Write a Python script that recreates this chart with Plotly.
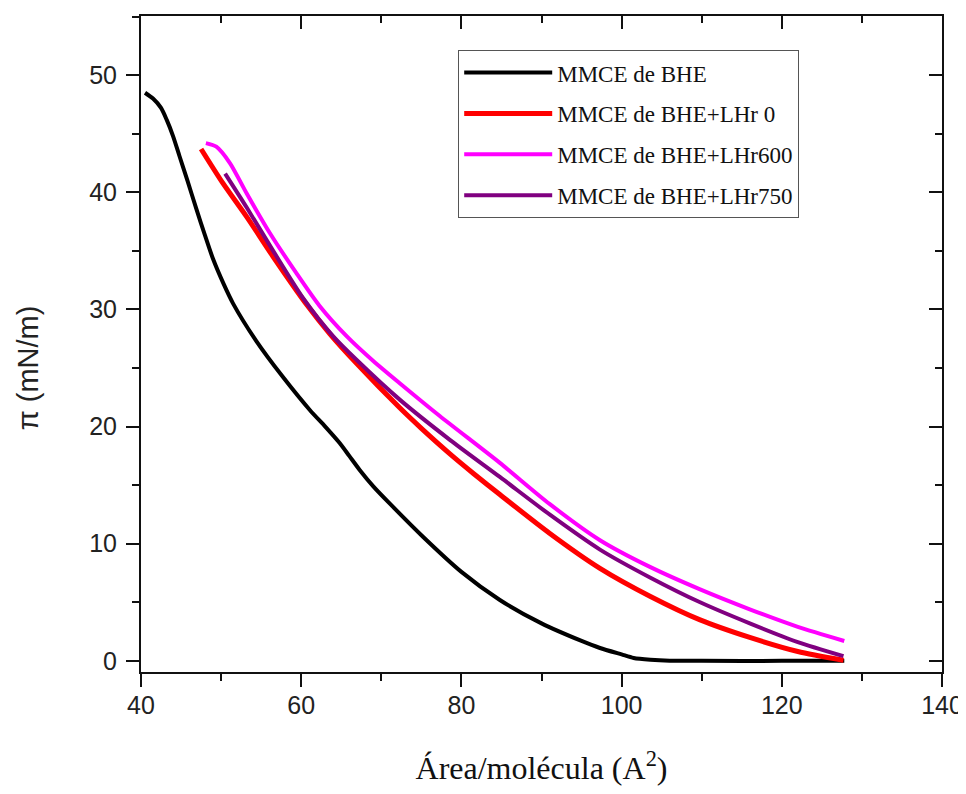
import plotly.graph_objects as go

# ---- data ----
bhe_x = [40.5, 41.5, 42.5, 43.2, 44.0, 44.8, 45.8, 46.9, 48.0, 49.0, 50.3, 51.5, 54.4, 57.7, 61.1, 63.0, 64.8, 66.0, 67.3, 69.0, 71.1, 75.2, 80.0, 84.8, 90.0, 95.0, 97.3, 100.0, 101.5, 103.6, 106.0, 110.0, 120.0, 127.8]
bhe_y = [48.5, 48.0, 47.2, 46.2, 44.8, 43.1, 41.0, 38.6, 36.3, 34.3, 32.2, 30.5, 27.3, 24.25, 21.4, 20.0, 18.6, 17.5, 16.3, 14.9, 13.4, 10.6, 7.6, 5.2, 3.2, 1.7, 1.1, 0.55, 0.25, 0.1, 0.02, 0.0, 0.0, 0.0]

lhr0_x = [47.5, 50.2, 53.2, 56.5, 60.7, 63.6, 66.9, 72.3, 75.0, 78.6, 81.5, 84.8, 91.0, 97.3, 103.6, 109.8, 116.0, 122.0, 127.7]
lhr0_y = [43.7, 40.8, 37.9, 34.5, 30.4, 27.9, 25.4, 21.6, 19.85, 17.65, 16.0, 14.2, 10.9, 7.9, 5.5, 3.5, 2.0, 0.8, 0.05]

lhr600_x = [48.1, 49.4, 51.1, 53.2, 56.1, 59.4, 62.3, 65.7, 69.0, 72.3, 77.3, 84.8, 91.0, 97.3, 103.6, 109.8, 116.0, 122.0, 127.8]
lhr600_y = [44.2, 43.9, 42.5, 39.9, 36.5, 33.1, 30.3, 27.7, 25.6, 23.7, 20.9, 16.9, 13.4, 10.3, 8.0, 6.1, 4.4, 2.9, 1.7]

lhr750_x = [50.5, 53.2, 56.5, 60.2, 64.0, 66.9, 72.3, 78.6, 84.8, 91.0, 97.3, 103.6, 109.8, 116.0, 122.0, 127.7]
lhr750_y = [41.6, 38.7, 35.0, 31.0, 27.7, 25.7, 22.3, 18.85, 15.7, 12.5, 9.5, 7.1, 5.0, 3.2, 1.6, 0.4]

series = [
    ("MMCE de BHE", bhe_x, bhe_y, "#000000", 4),
    ("MMCE de BHE+LHr 0", lhr0_x, lhr0_y, "#FF0000", 5),
    ("MMCE de BHE+LHr600", lhr600_x, lhr600_y, "#FF00FF", 4),
    ("MMCE de BHE+LHr750", lhr750_x, lhr750_y, "#800080", 4),
]

x_range = [40, 140]
y_range = [-0.95, 55.05]

fig = go.Figure()
for i, (name, xs, ys, col, w) in enumerate(series):
    fig.add_trace(go.Scatter(x=xs, y=ys, mode="lines", name=name,
                             legendgroup=f"g{i}",
                             line=dict(color=col, width=w, shape="spline", smoothing=0.7)))
# empty trace so that the mirrored (top/right) axes are drawn
fig.add_trace(go.Scatter(x=[], y=[], xaxis="x2", yaxis="y2", showlegend=False, hoverinfo="skip"))

tickfont = dict(family="Liberation Sans, Arial, sans-serif", size=25, color="#222222")
axcol = "#111111"

fig.update_layout(
    width=958, height=778,
    margin=dict(l=133, r=24, t=8, b=114),
    paper_bgcolor="white", plot_bgcolor="white",
    showlegend=True,
    legend=dict(x=0.396, y=0.948, xanchor="left", yanchor="top",
                bgcolor="white", bordercolor="#555555", borderwidth=1,
                font=dict(family="Liberation Serif, Times New Roman, serif", size=23, color="#111111"),
                tracegroupgap=8, itemwidth=88),
    xaxis=dict(range=x_range, dtick=20, tick0=40, ticks="outside", ticklen=13, tickwidth=2,
               tickcolor=axcol, showline=True, linecolor=axcol, linewidth=2, automargin=False,
               showgrid=False, zeroline=False, tickfont=tickfont, ticklabelstandoff=-3,
               minor=dict(dtick=10, tick0=40, ticks="outside", ticklen=7, tickwidth=2, tickcolor=axcol),
               title=dict(text="Área/molécula (A<sup>2</sup>)", standoff=41,
                          font=dict(family="Liberation Serif, Times New Roman, serif", size=32, color="#111111"))),
    yaxis=dict(range=y_range, dtick=10, tick0=0, ticks="outside", ticklen=13, tickwidth=2,
               tickcolor=axcol, showline=True, linecolor=axcol, linewidth=2, automargin=False,
               showgrid=False, zeroline=False, tickfont=tickfont, ticklabelstandoff=4,
               minor=dict(dtick=5, tick0=0, ticks="outside", ticklen=7, tickwidth=2, tickcolor=axcol)),
    xaxis2=dict(range=x_range, overlaying="x", side="top", anchor="y2", dtick=20, tick0=40,
                ticks="inside", ticklen=13, tickwidth=2, tickcolor=axcol, automargin=False,
                showline=True, linecolor=axcol, linewidth=2, showticklabels=False,
                showgrid=False, zeroline=False,
                minor=dict(dtick=10, tick0=40, ticks="inside", ticklen=7, tickwidth=2, tickcolor=axcol)),
    yaxis2=dict(range=y_range, overlaying="y", side="right", anchor="x2", dtick=10, tick0=0,
                ticks="inside", ticklen=13, tickwidth=2, tickcolor=axcol, automargin=False,
                showline=True, linecolor=axcol, linewidth=2, showticklabels=False,
                showgrid=False, zeroline=False,
                minor=dict(dtick=5, tick0=0, ticks="inside", ticklen=7, tickwidth=2, tickcolor=axcol)),
    annotations=[dict(text="π (mN/m)", textangle=-90, xref="paper", yref="paper",
                      x=-0.141, y=0.463, xanchor="center", yanchor="middle", showarrow=False,
                      font=dict(family="Liberation Sans, Arial, sans-serif", size=29, color="#222222"))],
)

fig.write_html("out.html")
